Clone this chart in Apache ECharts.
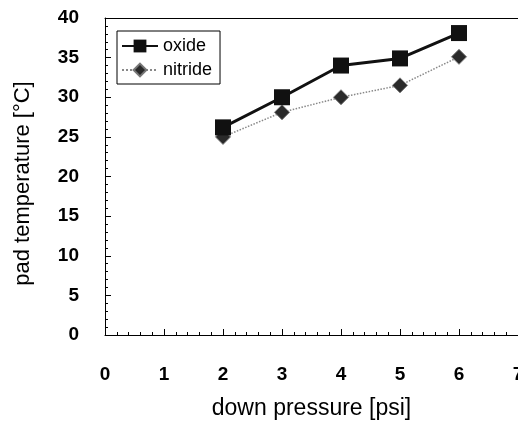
<!DOCTYPE html>
<html>
<head>
<meta charset="utf-8">
<script src="https://cdn.jsdelivr.net/npm/echarts@6/dist/echarts.min.js"></script>
<style>
  html, body { margin: 0; padding: 0; background: #fff; }
  #main { width: 518px; height: 423px; }
</style>
</head>
<body>
<div id="main"></div>
<script>
// down pressure [psi]
var pressure = [2, 3, 4, 5, 6];
// pad temperature [C]
var oxide = [26.2, 30.0, 34.0, 34.9, 38.1];
var nitride = [25.0, 28.1, 30.0, 31.5, 35.1];

var myChart = echarts.init(document.getElementById('main'));

function pairs(xs, ys) {
  var out = [];
  for (var i = 0; i < xs.length; i++) {
    out.push([xs[i], ys[i]]);
  }
  return out;
}

var font = 'Arial, "Liberation Sans", sans-serif';

var option = {
  animation: false,
  backgroundColor: '#fff',
  grid: { left: 105, right: 0, top: 18, bottom: 88, outerBoundsMode: 'none', containLabel: false },
  legend: {
    left: 117, top: 31,
    orient: 'vertical',
    itemWidth: 36, itemHeight: 16, itemGap: 6,
    padding: [6, 8, 5, 4],
    borderColor: '#000', borderWidth: 1,
    textStyle: { fontFamily: font, fontSize: 18, color: '#000' },
    data: ['oxide', 'nitride']
  },
  xAxis: [{
    type: 'value', min: 0, max: 7, interval: 1,
    name: 'down pressure [psi]', nameLocation: 'middle', nameGap: 62, nameMoveOverlap: false,
    nameTextStyle: { fontFamily: font, fontSize: 23, color: '#000' },
    axisLine: { lineStyle: { color: '#000', width: 1 } },
    axisTick: { inside: true, length: 6, lineStyle: { color: '#000' } },
    minorTick: { show: true, splitNumber: 5, length: 3, lineStyle: { color: '#000' } },
    axisLabel: { margin: 30, fontFamily: font, fontSize: 19, fontWeight: 'bold', color: '#000' },
    splitLine: { show: false }
  }, {
    type: 'value', min: 0, max: 7, position: 'top',
    axisLine: { show: true, lineStyle: { color: '#000', width: 1 } },
    axisTick: { show: false }, axisLabel: { show: false }, splitLine: { show: false }
  }],
  yAxis: {
    type: 'value', min: 0, max: 40, interval: 5,
    name: 'pad temperature [\u00b0C]', nameLocation: 'middle', nameGap: 71, nameMoveOverlap: false,
    nameTextStyle: { fontFamily: font, fontSize: 22, color: '#000', padding: [0, 14, 0, 0] },
    axisLine: { show: true, lineStyle: { color: '#000', width: 1 } },
    axisTick: { inside: true, length: 6, lineStyle: { color: '#000' } },
    minorTick: { show: true, splitNumber: 5, length: 3, lineStyle: { color: '#000' } },
    axisLabel: { margin: 26, fontFamily: font, fontSize: 19, fontWeight: 'bold', color: '#000' },
    splitLine: { show: false }
  },
  series: [{
    name: 'oxide', type: 'line',
    data: pairs(pressure, oxide),
    symbol: 'rect', symbolSize: 16,
    itemStyle: { color: '#111' },
    lineStyle: { color: '#111', width: 3 },
    z: 3
  }, {
    name: 'nitride', type: 'line',
    data: pairs(pressure, nitride),
    symbol: 'diamond', symbolSize: 15,
    itemStyle: { color: '#2a2a2a', borderColor: '#777', borderWidth: 1 },
    lineStyle: { color: '#888', width: 1.5, type: 'dotted' },
    z: 2
  }]
};

myChart.setOption(option);
</script>
</body>
</html>
